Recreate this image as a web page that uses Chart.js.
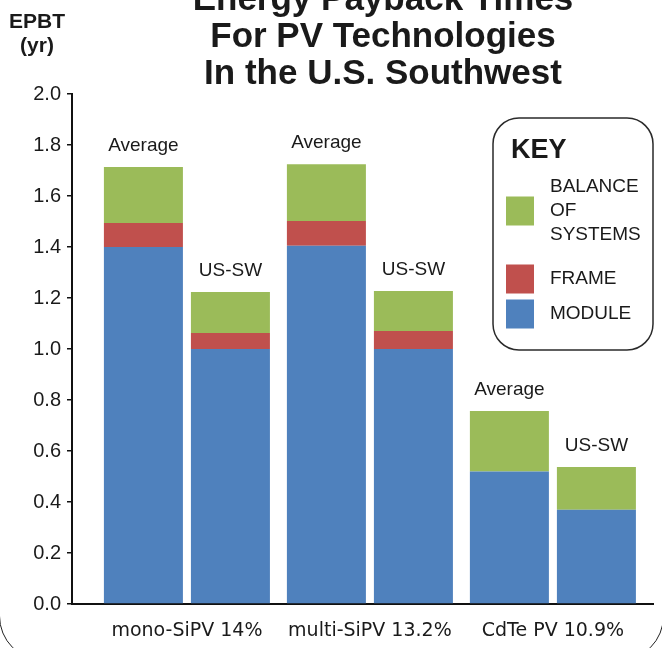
<!DOCTYPE html>
<html>
<head>
<meta charset="utf-8">
<script src="https://cdn.jsdelivr.net/npm/chart.js@4.4.1/dist/chart.umd.min.js"></script>
<style>
    html, body { margin: 0; padding: 0; background: #fff; overflow: hidden; }
    #wrap { position: relative; width: 662px; height: 648px; }
    #frame {
        position: absolute; left: -1px; top: -200px; width: 665px; height: 861px;
        border: 1.5px solid #222; border-radius: 45px; box-sizing: border-box;
    }
    #epbtChart { position: absolute; left: 0; top: 0; }
</style>
</head>
<body>
<div id="wrap">
    <div id="frame"></div>
    <canvas id="epbtChart" width="662" height="648"></canvas>
</div>
<script>
// data
const groups = ["mono-SiPV 14%", "multi-SiPV 13.2%", "CdTe PV 10.9%"];
const groupPos = [1, 2, 3];
const scenarios = ["Average", "US-SW"];
const components = ["MODULE", "FRAME", "BALANCE OF SYSTEMS"];
const colors = ["#4F81BD", "#C0504D", "#9BBB59"];

const moduleAvg = [1.40, 1.405, 0.52];
const frameAvg = [0.094, 0.097, 0];
const bosAvg = [0.22, 0.223, 0.237];
const moduleSW = [1.00, 1.00, 0.37];
const frameSW = [0.063, 0.071, 0];
const bosSW = [0.161, 0.156, 0.167];

const yTicks = [0, 0.2, 0.4, 0.6, 0.8, 1.0, 1.2, 1.4, 1.6, 1.8, 2.0];
const titleLines = ["Energy Payback Times", "For PV Technologies", "In the U.S. Southwest"];
const yTitleLines = ["EPBT", "(yr)"];

const ink = "#1a1a1a";

function pts(arr) {
    return arr.map((v, i) => ({ x: groupPos[i], y: v }));
}

const seriesAvg = [moduleAvg, frameAvg, bosAvg];
const seriesSW = [moduleSW, frameSW, bosSW];
let datasets = [];
seriesAvg.forEach((s, k) => datasets.push({
    label: components[k], data: pts(s), backgroundColor: colors[k], stack: scenarios[0]
}));
seriesSW.forEach((s, k) => datasets.push({
    label: components[k], data: pts(s), backgroundColor: colors[k], stack: scenarios[1]
}));

// title, axis label, scenario labels and the KEY box
const decor = {
    id: "decor",
    afterDraw(chart) {
        const ctx = chart.ctx;
        ctx.save();
        ctx.fillStyle = ink;

        ctx.textAlign = "center";
        ctx.textBaseline = "alphabetic";
        ctx.font = "bold 35px 'Liberation Sans'";
        titleLines.forEach((t, i) => ctx.fillText(t, 383, 10 + i * 37));

        ctx.font = "bold 21px 'Liberation Sans'";
        yTitleLines.forEach((t, i) => ctx.fillText(t, 37, 28 + i * 24));

        // "Average" / "US-SW" above each stack (top dataset of each stack)
        ctx.font = "19px 'Liberation Sans'";
        [2, 5].forEach((di, s) => {
            chart.getDatasetMeta(di).data.forEach(bar => {
                ctx.fillText(scenarios[s], bar.x, bar.y - 16);
            });
        });

        // key
        ctx.strokeStyle = "#2a2a2a";
        ctx.lineWidth = 1.5;
        ctx.beginPath();
        ctx.roundRect(493, 118, 160, 232, 26);
        ctx.stroke();

        ctx.textAlign = "left";
        ctx.font = "bold 27px 'Liberation Sans'";
        ctx.fillText("KEY", 511, 158);

        const keyOrder = [2, 1, 0];
        const keyCenters = [211, 279, 314];
        ctx.font = "19px 'Liberation Sans'";
        keyOrder.forEach((k, j) => {
            const cy = keyCenters[j];
            ctx.fillStyle = colors[k];
            ctx.fillRect(506, cy - 14.5, 28, 29);
            ctx.fillStyle = ink;
            const lines = components[k].split(" ");
            ctx.textBaseline = "middle";
            lines.forEach((ln, i) => {
                ctx.fillText(ln, 550, cy + (i - (lines.length - 1) / 2) * 24);
            });
        });
        ctx.restore();
    }
};

new Chart(document.getElementById("epbtChart"), {
    type: "bar",
    data: { datasets: datasets },
    options: {
        responsive: false,
        animation: false,
        categoryPercentage: 0.951,
        barPercentage: 0.908,
        layout: { padding: { top: 94, right: 9, bottom: 0, left: 0 } },
        plugins: {
            legend: { display: false },
            tooltip: { enabled: false },
            title: { display: false }
        },
        scales: {
            x: {
                type: "linear",
                stacked: true,
                offset: false,
                min: 0.372,
                max: 3.547,
                afterBuildTicks: s => { s.ticks = groupPos.map(v => ({ value: v })); },
                afterFit: s => { s.height = 44; },
                grid: { display: false, drawTicks: false, offset: false },
                border: { display: true, color: "#111", width: 2 },
                ticks: {
                    autoSkip: false,
                    maxRotation: 0,
                    padding: 16,
                    color: ink,
                    font: { family: "'DejaVu Sans'", size: 19 },
                    callback: (v, i) => groups[i]
                }
            },
            y: {
                stacked: true,
                min: 0,
                max: 2,
                afterBuildTicks: s => { s.ticks = yTicks.map(v => ({ value: v })); },
                afterFit: s => { s.width = 72; },
                grid: {
                    display: true,
                    drawOnChartArea: false,
                    drawTicks: true,
                    tickLength: 5,
                    color: "#111",
                    lineWidth: 1.5
                },
                border: { display: true, color: "#111", width: 2 },
                ticks: {
                    padding: 6,
                    color: ink,
                    font: { family: "'Liberation Sans'", size: 20 },
                    callback: v => v.toFixed(1)
                }
            }
        }
    },
    plugins: [decor]
});
</script>
</body>
</html>
